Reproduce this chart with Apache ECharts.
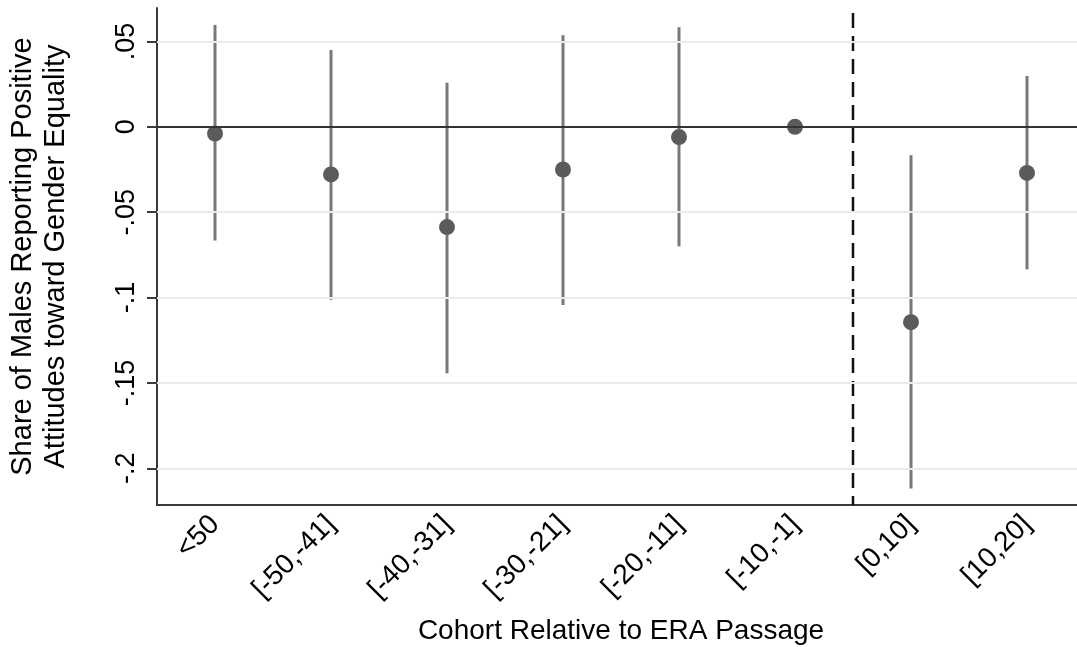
<!DOCTYPE html>
<html>
<head>
<meta charset="utf-8">
<title>Cohort estimates</title>
<script src="https://cdn.jsdelivr.net/npm/echarts@6/dist/echarts.min.js"></script>
<style>
  html, body { margin: 0; padding: 0; background: #fff; }
  #chart { width: 1077px; height: 647px; }
</style>
</head>
<body>
<div id="chart"></div>
<script>
// Cohort bins relative to ERA passage
const categories = ['<50', '[-50,-41]', '[-40,-31]', '[-30,-21]', '[-20,-11]', '[-10,-1]', '[0,10]', '[10,20]'];
// Point estimates and confidence bounds (reference bin [-10,-1] has no interval)
const estimates = [-0.0039, -0.0279, -0.0587, -0.0250, -0.0060, 0, -0.1144, -0.0270];
const ciUpper   = [0.0597, 0.0450, 0.0258, 0.0536, 0.0583, null, -0.0166, 0.0298];
const ciLower   = [-0.0666, -0.1013, -0.1443, -0.1043, -0.0700, null, -0.2118, -0.0835];
// Value axis ticks and range
const yTicks = [-0.2, -0.15, -0.1, -0.05, 0, 0.05];
const yMin = -0.2215;
const yMax = 0.0696;
// The passage falls between these two bins
const passageBins = [5, 6];

const FONT = '"Liberation Sans", Arial, sans-serif';
const fmtTick = v => (v === 0 ? '0' : String(v).replace('0.', '.'));

const intervals = [];
categories.forEach((c, i) => {
  if (ciUpper[i] !== null && ciLower[i] !== null) intervals.push([i, ciLower[i], ciUpper[i]]);
});

const chart = echarts.init(document.getElementById('chart'), null, { renderer: 'canvas' });

chart.setOption({
  animation: false,
  backgroundColor: '#fff',
  grid: { left: 157, top: 8, width: 928, height: 497, containLabel: false, outerBoundsMode: 'none' },
  xAxis: {
    type: 'category',
    data: categories,
    boundaryGap: true,
    name: 'Cohort Relative to ERA Passage',
    nameLocation: 'middle',
    nameGap: 112,
    nameTextStyle: { fontFamily: FONT, fontSize: 28, color: '#000' },
    axisLine: { show: true, onZero: false, lineStyle: { color: '#3a3a3a', width: 2 } },
    axisTick: { alignWithLabel: true, length: 10, lineStyle: { color: '#3a3a3a', width: 2 } },
    axisLabel: { rotate: 45, margin: 15, fontFamily: FONT, fontSize: 28, color: '#000', interval: 0 },
    splitLine: { show: false }
  },
  yAxis: {
    type: 'value',
    min: yMin,
    max: yMax,
    name: 'Share of Males Reporting Positive\nAttitudes toward Gender Equality',
    nameLocation: 'middle',
    nameGap: 85,
    nameRotate: 90,
    nameTextStyle: { fontFamily: FONT, fontSize: 29, color: '#000', lineHeight: 33, align: 'center' },
    axisLine: { show: true, onZero: false, lineStyle: { color: '#3a3a3a', width: 2 } },
    axisTick: { show: true, length: 10, customValues: yTicks, lineStyle: { color: '#3a3a3a', width: 2 } },
    axisLabel: {
      rotate: 90, margin: 17, fontFamily: FONT, fontSize: 27, color: '#000',
      customValues: yTicks, formatter: fmtTick
    },
    splitLine: { show: false }
  },
  series: [
    {
      // horizontal guides and the zero line
      type: 'scatter',
      data: [],
      z: 1,
      markLine: {
        silent: true,
        symbol: 'none',
        label: { show: false },
        data: yTicks.map(v => ({
          yAxis: v,
          lineStyle: v === 0
            ? { color: '#333', width: 2, type: 'solid' }
            : { color: '#ebebeb', width: 2, type: 'solid' }
        }))
      }
    },
    {
      // confidence intervals
      type: 'custom',
      z: 2,
      data: intervals,
      renderItem: (params, api) => {
        const lo = api.coord([api.value(0), api.value(1)]);
        const hi = api.coord([api.value(0), api.value(2)]);
        return {
          type: 'line',
          shape: { x1: lo[0], y1: lo[1], x2: hi[0], y2: hi[1] },
          style: { stroke: '#787878', lineWidth: 3 }
        };
      }
    },
    {
      // passage divider between the last pre bin and the first post bin
      type: 'custom',
      z: 3,
      data: [passageBins],
      renderItem: (params, api) => {
        const a = api.coord([api.value(0), 0]);
        const b = api.coord([api.value(1), 0]);
        const x = (a[0] + b[0]) / 2;
        const cs = params.coordSys;
        return {
          type: 'line',
          shape: { x1: x, y1: cs.y + 5, x2: x, y2: cs.y + cs.height },
          style: { stroke: '#111', lineWidth: 2.5, lineDash: [15, 8] }
        };
      }
    },
    {
      // point estimates
      type: 'scatter',
      z: 4,
      symbol: 'circle',
      symbolSize: 16,
      itemStyle: { color: '#5b5b5b', opacity: 1 },
      data: estimates.map((v, i) => [i, v])
    }
  ]
});
</script>
</body>
</html>
